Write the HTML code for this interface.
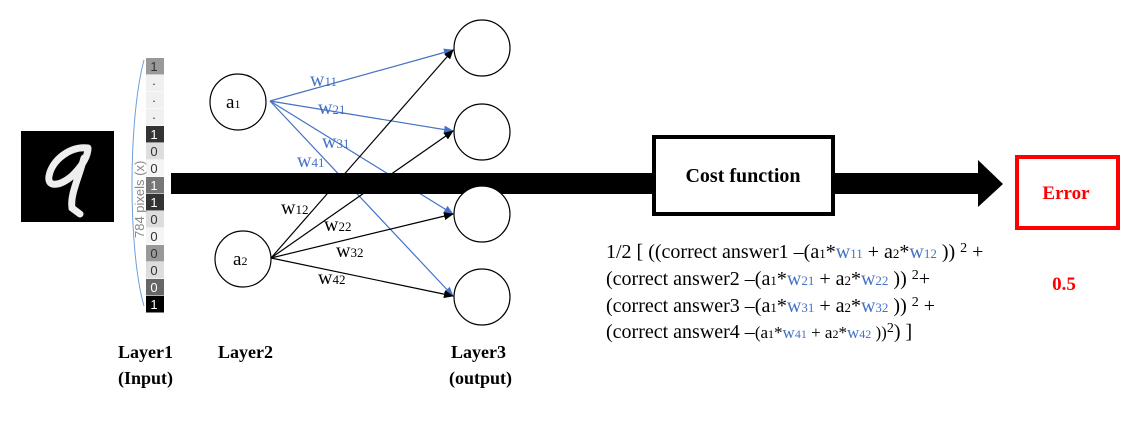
<!DOCTYPE html>
<html><head><meta charset="utf-8"><style>
body{margin:0;background:#fff;}
svg{display:block;font-family:"Liberation Serif",serif;}
</style></head><body>
<svg width="1139" height="422" viewBox="0 0 1139 422">
<defs>
<marker id="ab" markerWidth="10" markerHeight="8" refX="9" refY="4" orient="auto" markerUnits="userSpaceOnUse"><path d="M0,0 L10,4 L0,8 Z" fill="#4472c4"/></marker>
<marker id="ak" markerWidth="10" markerHeight="8" refX="9" refY="4" orient="auto" markerUnits="userSpaceOnUse"><path d="M0,0 L10,4 L0,8 Z" fill="#000"/></marker>
</defs>
<rect x="21" y="131" width="93" height="91" fill="#000"/>
<path d="M88,148 C70,146 52,160 49,176 C47,188 60,186 72,176 C82,166 88,156 88,148 M84,158 C78,180 70,195 72,208 L80,214" stroke="#eee" stroke-width="7" fill="none" stroke-linecap="round"/>
<g id="col"></g>
<path d="M144,60 C128,120 128,250 144,306" stroke="#6fa0d8" stroke-width="1" fill="none"/>
<text x="0" y="0" transform="translate(144,238) rotate(-90)" font-size="13" fill="#888" font-family="Liberation Sans,sans-serif">784 pixels (x)</text>
<g stroke-width="1.2" fill="none">
<line x1="270" y1="101" x2="453" y2="50" stroke="#4472c4" marker-end="url(#ab)"/>
<line x1="270" y1="101" x2="453" y2="131" stroke="#4472c4" marker-end="url(#ab)"/>
<line x1="270" y1="101" x2="453" y2="214" stroke="#4472c4" marker-end="url(#ab)"/>
<line x1="270" y1="101" x2="453" y2="296" stroke="#4472c4" marker-end="url(#ab)"/>
<line x1="271" y1="258" x2="453" y2="50" stroke="#000" marker-end="url(#ak)"/>
<line x1="271" y1="258" x2="453" y2="131" stroke="#000" marker-end="url(#ak)"/>
<line x1="271" y1="258" x2="453" y2="214" stroke="#000" marker-end="url(#ak)"/>
<line x1="271" y1="258" x2="453" y2="296" stroke="#000" marker-end="url(#ak)"/>
</g>
<path d="M171,173 H978 V160 L1003,184 L978,207 V194 H171 Z" fill="#000"/>
<g fill="#fff" stroke="#000" stroke-width="1.2">
<circle cx="238" cy="102" r="28"/>
<circle cx="243" cy="259" r="28"/>
<circle cx="482" cy="48" r="28"/>
<circle cx="482" cy="132" r="28"/>
<circle cx="482" cy="214" r="28"/>
<circle cx="482" cy="297" r="28"/>
</g>
<g font-size="19">
<text x="226" y="108">a<tspan font-size="12">1</tspan></text>
<text x="233" y="265">a<tspan font-size="12">2</tspan></text>
</g>
<g font-size="20" fill="#4472c4">
<text x="310" y="86">w<tspan font-size="13">11</tspan></text>
<text x="318" y="114">w<tspan font-size="13">21</tspan></text>
<text x="322" y="148">w<tspan font-size="13">31</tspan></text>
<text x="297" y="167">w<tspan font-size="13">41</tspan></text>
</g>
<g font-size="20" fill="#000">
<text x="281" y="214">w<tspan font-size="13">12</tspan></text>
<text x="324" y="231">w<tspan font-size="13">22</tspan></text>
<text x="336" y="257">w<tspan font-size="13">32</tspan></text>
<text x="318" y="284">w<tspan font-size="13">42</tspan></text>
</g>
<rect x="654" y="137" width="179" height="77" fill="#fff" stroke="#000" stroke-width="4"/>
<text x="743" y="182" text-anchor="middle" font-size="20" font-weight="bold">Cost function</text>
<rect x="1017" y="157" width="101" height="71" fill="#fff" stroke="#f00" stroke-width="4"/>
<text x="1066" y="199" text-anchor="middle" font-size="19" font-weight="bold" fill="#f00">Error</text>
<text x="1064" y="290" text-anchor="middle" font-size="19" font-weight="bold" fill="#f00">0.5</text>
<g font-size="20">
<text x="606" y="258">1/2 [ ((correct answer1 –(a<tspan font-size="13">1</tspan>*<tspan fill="#4472c4">w<tspan font-size="13">11</tspan></tspan> + a<tspan font-size="13">2</tspan>*<tspan fill="#4472c4">w<tspan font-size="13">12</tspan></tspan> )) <tspan font-size="14" dy="-6">2</tspan><tspan dy="6"> +</tspan></text>
<text x="606" y="285">(correct answer2 –(a<tspan font-size="13">1</tspan>*<tspan fill="#4472c4">w<tspan font-size="13">21</tspan></tspan> + a<tspan font-size="13">2</tspan>*<tspan fill="#4472c4">w<tspan font-size="13">22</tspan></tspan> )) <tspan font-size="14" dy="-6">2</tspan><tspan dy="6">+</tspan></text>
<text x="606" y="312">(correct answer3 –(a<tspan font-size="13">1</tspan>*<tspan fill="#4472c4">w<tspan font-size="13">31</tspan></tspan> + a<tspan font-size="13">2</tspan>*<tspan fill="#4472c4">w<tspan font-size="13">32</tspan></tspan> )) <tspan font-size="14" dy="-6">2</tspan><tspan dy="6"> +</tspan></text>
<text x="606" y="338">(correct answer4 –<tspan font-size="17">(a<tspan font-size="12">1</tspan>*<tspan fill="#4472c4">w<tspan font-size="12">41</tspan></tspan> + a<tspan font-size="12">2</tspan>*<tspan fill="#4472c4">w<tspan font-size="12">42</tspan></tspan> ))</tspan><tspan font-size="14" dy="-6">2</tspan><tspan dy="6">) ]</tspan></text>
</g>
<g font-size="18" font-weight="bold">
<text x="118" y="358">Layer1</text>
<text x="118" y="384">(Input)</text>
<text x="218" y="358">Layer2</text>
<text x="451" y="358">Layer3</text>
<text x="449" y="384">(output)</text>
</g>
</svg>
<script>
const cellVals=["1","·","·","·","1","0","0","1","1","0","0","0","0","0","1"];
const cellShades=["#999","#f0f0f0","#f0f0f0","#f0f0f0","#333","#ddd","#f5f5f5","#777","#333","#ddd","#f5f5f5","#999","#ddd","#666","#000"];
const col=document.getElementById('col');
const ns="http://www.w3.org/2000/svg";
cellVals.forEach((v,i)=>{
  const y=58+i*17;
  const r=document.createElementNS(ns,'rect');
  r.setAttribute('x',146);r.setAttribute('y',y);r.setAttribute('width',18);r.setAttribute('height',16.5);
  r.setAttribute('fill',cellShades[i]);
  
  
  col.appendChild(r);
  const t=document.createElementNS(ns,'text');
  t.setAttribute('x',154);t.setAttribute('y',y+13);t.setAttribute('text-anchor','middle');
  t.setAttribute('font-size','13');t.setAttribute('font-family','Liberation Sans,sans-serif');
  const dark=['#333','#000','#666','#777'].includes(cellShades[i]);
  t.setAttribute('fill',dark?'#fff':'#333');
  
  
  t.textContent=v;
  col.appendChild(t);
});
</script>
</body></html>
